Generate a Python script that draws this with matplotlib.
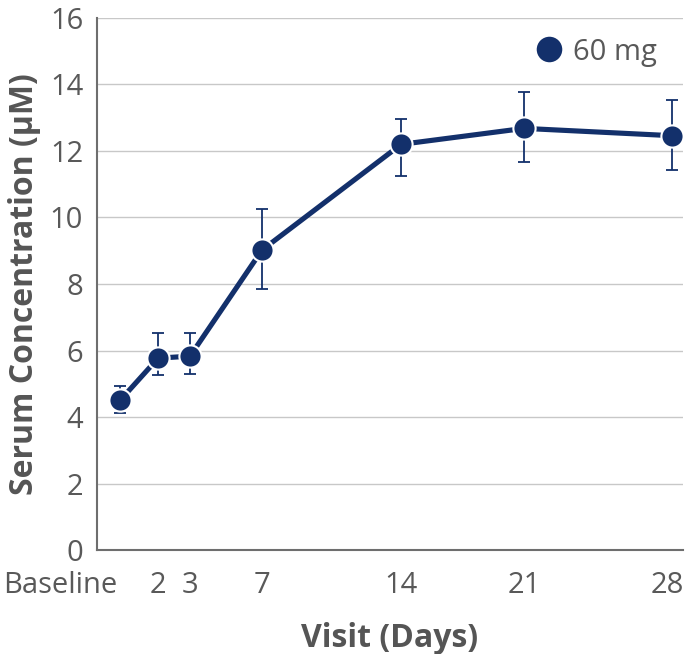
import matplotlib
matplotlib.use("Agg")
import matplotlib.pyplot as plt
import matplotlib.transforms as mtransforms

# visits (tick labels) and where they sit along the x axis
visits = ["Baseline", "2", "3", "7", "14", "21", "28"]
visit_pos = [0, 1.93, 3.55, 7.2, 14.26, 20.5, 28]

# serum concentration (uM), mean with lower / upper error
conc = [4.5, 5.77, 5.83, 9.02, 12.2, 12.68, 12.46]
err_lo = [0.38, 0.52, 0.54, 1.17, 0.95, 1.02, 1.03]
err_hi = [0.42, 0.75, 0.71, 1.24, 0.77, 1.09, 1.07]

navy = "#13306b"
gray = "#595959"

plt.rcParams["font.family"] = ["Open Sans", "DejaVu Sans"]

fig = plt.figure(figsize=(6.87, 6.54), dpi=100)
ax = fig.add_axes([0.1412, 0.159, 0.853, 0.8135])

ax.errorbar(visit_pos, conc, yerr=[err_lo, err_hi], fmt="none",
            ecolor=navy, elinewidth=1.3, capsize=4, capthick=1.3, zorder=2)
ax.plot(visit_pos, conc, color=navy, lw=3.7, marker="o", ms=16,
        mfc=navy, mec="white", mew=1.5, zorder=3, label="60 mg")

ax.set_xlim(-1.17, 28.56)
ax.set_ylim(0, 16)
ax.set_yticks(range(0, 17, 2))
ax.set_xticks(visit_pos)
ax.set_xticklabels(visits)

ax.yaxis.grid(True, color="#c8c8c8", lw=1)
ax.set_axisbelow(True)
for s in ["top", "right"]:
    ax.spines[s].set_visible(False)
for s in ["left", "bottom"]:
    ax.spines[s].set_color("#6e6e6e")
    ax.spines[s].set_linewidth(1.5)

ax.tick_params(axis="both", length=0, labelsize=21, colors=gray)
ax.tick_params(axis="x", pad=15)
ax.tick_params(axis="y", pad=10)

# baseline label sits to the left of its point, last one nudged in from the edge
lbls = ax.get_xticklabels()
lbls[0].set_horizontalalignment("right")
lbls[0].set_transform(lbls[0].get_transform() + mtransforms.ScaledTranslation(-0.03, 0, fig.dpi_scale_trans))
lbls[-1].set_transform(lbls[-1].get_transform() + mtransforms.ScaledTranslation(-0.05, 0, fig.dpi_scale_trans))

ax.set_ylabel("Serum Concentration (\u00b5M)", fontsize=23, fontweight="bold",
              color="#555555", labelpad=6)
ax.set_xlabel("Visit (Days)", fontsize=23, fontweight="bold", color="#555555", labelpad=16)

leg = ax.legend(loc="upper right", bbox_to_anchor=(0.975, 0.985), frameon=False,
                fontsize=21, handlelength=0.6, handletextpad=0.5, markerscale=1.15,
                borderaxespad=0.0)
for t in leg.get_texts():
    t.set_color(gray)
for h in leg.legend_handles:
    h.set_linestyle("none")
    h.set_markeredgewidth(0)

fig.savefig("out.png", dpi=100)
